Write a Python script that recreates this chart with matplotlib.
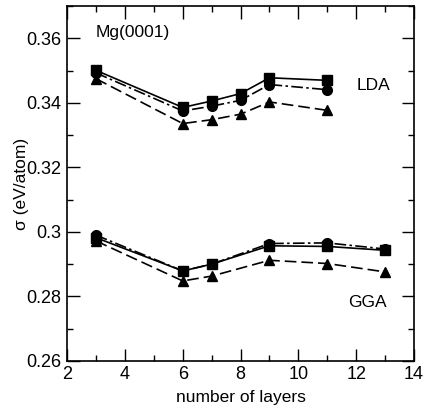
import matplotlib
matplotlib.use("Agg")
import matplotlib.pyplot as plt
import matplotlib.ticker as mticker

plt.rcParams["font.family"] = ["Liberation Sans", "DejaVu Sans"]

# LDA
lda_x = [3, 6, 7, 8, 9, 11]
lda_sq = [0.3501, 0.3386, 0.3406, 0.3429, 0.3478, 0.3470]
lda_ci = [0.3493, 0.3375, 0.3390, 0.3408, 0.3457, 0.3441]
lda_tr = [0.3475, 0.3336, 0.3348, 0.3365, 0.3403, 0.3377]

# GGA
gga_x = [3, 6, 7, 9, 11, 13]
gga_sq = [0.2982, 0.2879, 0.2900, 0.2957, 0.2955, 0.2943]
gga_ci = [0.2990, 0.2879, 0.2900, 0.2964, 0.2966, 0.2947]
gga_tr = [0.2972, 0.2848, 0.2863, 0.2912, 0.2902, 0.2876]

fig = plt.figure(figsize=(4.25, 4.12), dpi=100)
ax = fig.add_axes([0.158, 0.124, 0.816, 0.861])

for x, sq, ci, tr in [(lda_x, lda_sq, lda_ci, lda_tr), (gga_x, gga_sq, gga_ci, gga_tr)]:
    ax.plot(x, sq, color="k", lw=1.2, ls="-", marker="s", ms=6.5)
    ax.plot(x, ci, color="k", lw=1.2, ls=(0, (7, 2, 1.5, 2)), marker="o", ms=7)
    ax.plot(x, tr, color="k", lw=1.2, ls=(0, (7, 3)), marker="^", ms=7)

ax.set_xlim(2, 14)
ax.set_ylim(0.26, 0.37)
ax.set_xticks([2, 4, 6, 8, 10, 12, 14])
ax.set_yticks([0.26, 0.28, 0.30, 0.32, 0.34, 0.36])
ax.set_yticklabels(["0.26", "0.28", "0.3", "0.32", "0.34", "0.36"])
ax.xaxis.set_minor_locator(mticker.MultipleLocator(1))
ax.yaxis.set_minor_locator(mticker.MultipleLocator(0.01))
ax.tick_params(which="both", direction="in", top=True, right=True, labelsize=13, pad=4)
ax.tick_params(which="major", length=9, width=1)
ax.tick_params(which="minor", length=4.5, width=1)
for sp in ax.spines.values():
    sp.set_linewidth(1.2)

ax.set_xlabel("number of layers", fontsize=12.5, labelpad=5)
ax.set_ylabel("σ (eV/atom)", fontsize=12.5, labelpad=-2)

ax.text(3.0, 0.3618, "Mg(0001)", fontsize=12.5, ha="left", va="center")
ax.text(12.6, 0.3455, "LDA", fontsize=12.5, ha="center", va="center")
ax.text(12.4, 0.2780, "GGA", fontsize=12.5, ha="center", va="center")

fig.savefig("out.png", dpi=100)
